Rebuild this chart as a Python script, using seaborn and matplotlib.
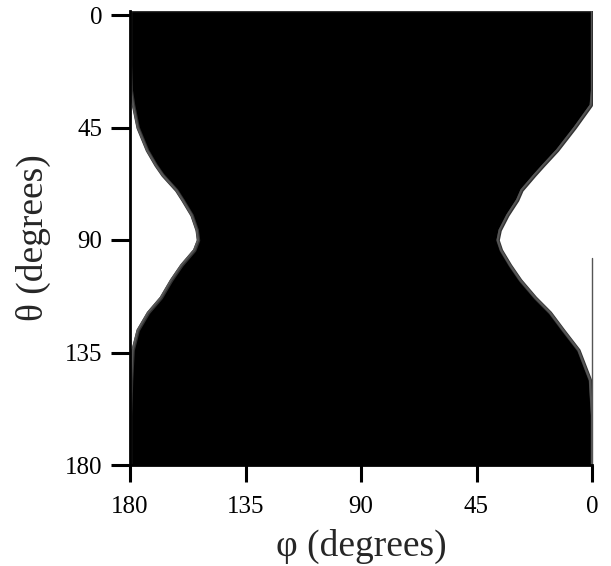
import matplotlib
matplotlib.use("Agg")
import matplotlib.pyplot as plt
import seaborn as sns
import pandas as pd

# boundary of the occupied (phi, theta) region
theta = [-2, 0, 20, 30, 36, 45, 54, 60, 64, 70, 74, 80, 86, 90, 94,
         100, 106, 113, 119, 126, 134, 146, 160, 181]
phi_upper = [180, 180, 180, 179.7, 178.8, 177, 173.4, 170, 167.3, 162, 159.5, 156,
             154, 153.5, 155, 160, 164, 168, 173, 177, 179, 179.6, 180, 180]
phi_lower = [0, 0, 0, 0, 0.5, 6.8, 13.6, 19, 22.5, 27.5, 29.2, 33,
             36, 36.8, 35.5, 32, 28, 22.2, 16.4, 11.3, 5.3, 0.8, 0, 0]

# thin streak of points sitting on phi = 0
streak_theta = [97, 180]
streak_phi = [0, 0]

ticks = [0, 45, 90, 135, 180]

df = pd.DataFrame({"theta": theta, "upper": phi_upper, "lower": phi_lower})

sns.set_style("ticks")
plt.rcParams["font.family"] = ["Liberation Serif", "DejaVu Serif"]

fig = plt.figure(figsize=(6.11, 5.66), dpi=100)
ax = fig.add_axes([130 / 611, 1 - 465 / 566, 462 / 611, 454 / 566])

ax.fill_betweenx(df["theta"], df["lower"], df["upper"], color="black",
                 edgecolor="#333333", linewidth=2.5)
sns.lineplot(data=df, x="upper", y="theta", orient="y", sort=False,
             color="#555555", lw=1.5, ax=ax)
sns.lineplot(data=df, x="lower", y="theta", orient="y", sort=False,
             color="#555555", lw=1.5, ax=ax)
ax.plot(streak_phi, streak_theta, color="#555555", lw=1.0, clip_on=False)

ax.set_xlim(180, 0)
ax.set_ylim(180, -1.6)
ax.set_xticks(ticks)
ax.set_yticks(ticks)
ax.set_xticklabels([str(t) for t in ticks])
ax.set_yticklabels([str(t) for t in ticks])

for side in ["top", "right"]:
    ax.spines[side].set_visible(False)
for side in ["left", "bottom"]:
    ax.spines[side].set_linewidth(2)
    ax.spines[side].set_color("black")

ax.tick_params(axis="y", direction="out", length=14, width=2.2,
               labelsize=18, pad=6, colors="black")
ax.tick_params(axis="x", direction="out", length=12, width=2.2,
               labelsize=18, pad=10, colors="black")

ax.set_xlabel("φ (degrees)", fontsize=27, labelpad=8)
ax.set_ylabel("θ (degrees)", fontsize=27, labelpad=10)

fig.savefig("out.png", dpi=100)
